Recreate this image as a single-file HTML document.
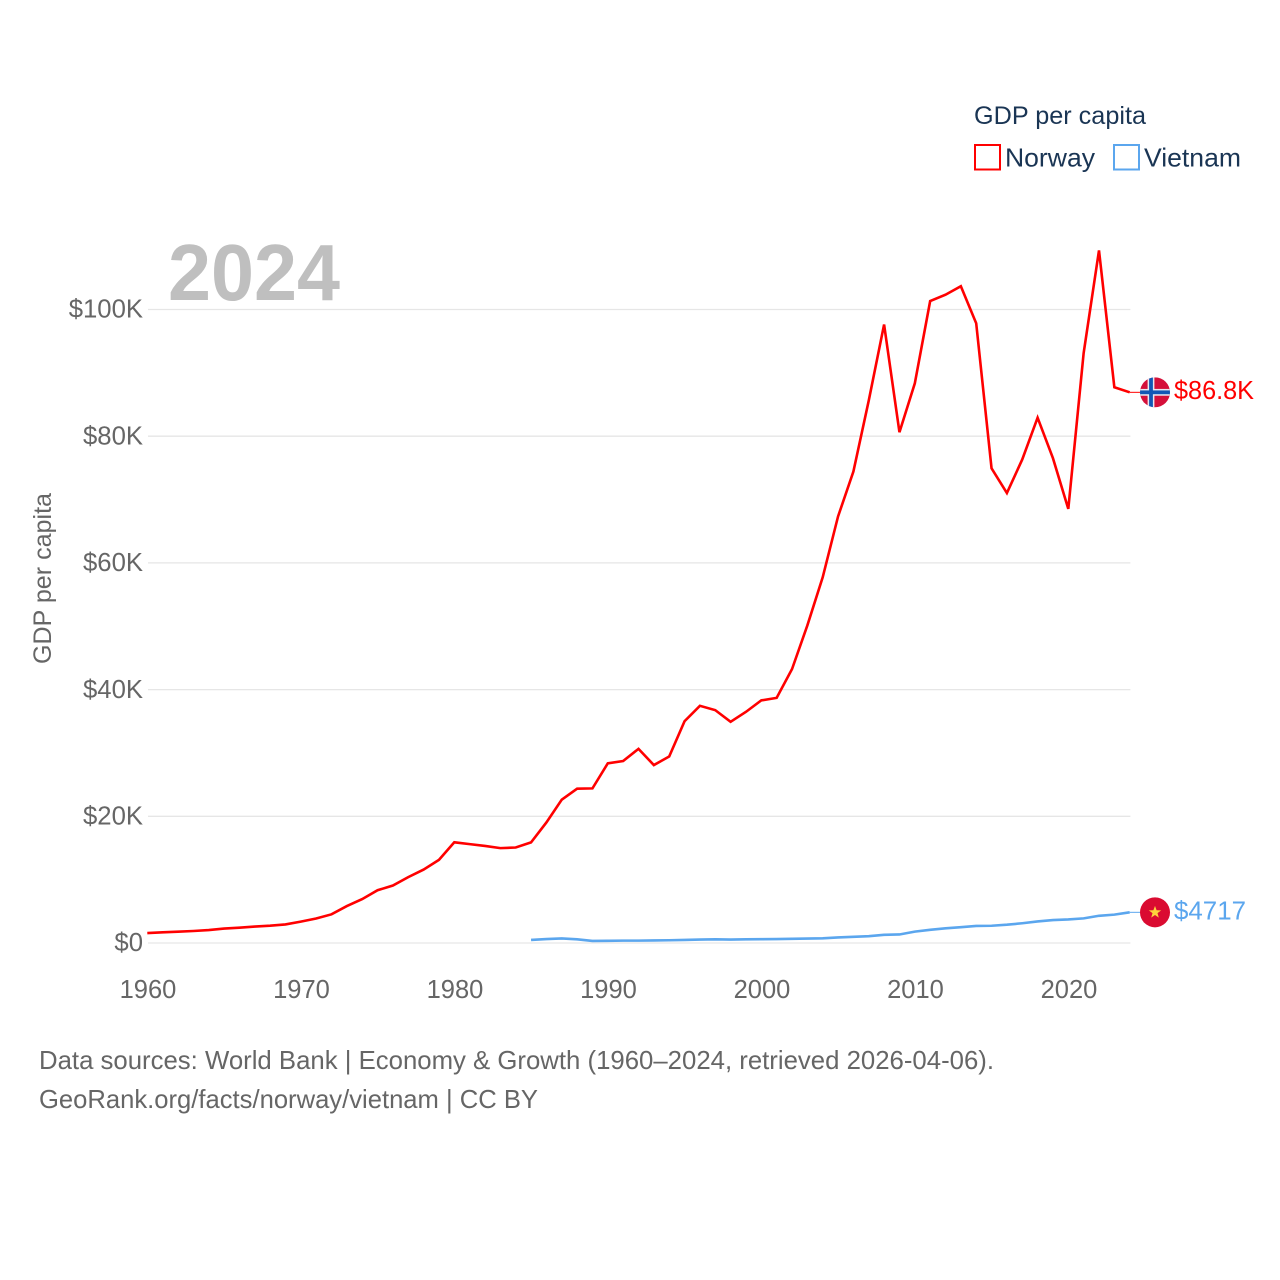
<!DOCTYPE html>
<html lang="en">
<head>
<meta charset="utf-8">
<title>GDP per capita: Norway and Vietnam</title>
<style>
html,body{margin:0;padding:0;background:#fff;}
svg{display:block;font-family:"Liberation Sans",sans-serif;}
</style>
</head>
<body>
<svg id="chart" xmlns="http://www.w3.org/2000/svg" width="1280" height="1280" viewBox="0 0 1280 1280">
  <defs>
    <clipPath id="flag-clip-norway"><circle cx="0" cy="0" r="15"></circle></clipPath>
  </defs>
  <rect x="0" y="0" width="1280" height="1280" fill="#fff"></rect>
  <g id="grid"></g>
  <g id="y-ticks"></g>
  <g id="x-ticks"></g>
  <text x="168" y="300" font-size="80" font-weight="700" fill="#bfbfbf" textLength="172" lengthAdjust="spacingAndGlyphs">2024</text>
  <text transform="translate(51,578.5) rotate(-90)" text-anchor="middle" font-size="25" fill="#666666" textLength="171" lengthAdjust="spacingAndGlyphs">GDP per capita</text>
  <g id="series" transform="translate(-0.7,-0.8)"></g>
  <g id="ends" transform="translate(0,-0.8)"></g>
  <g>
    <text x="974" y="124" font-size="25" fill="#1a3554" textLength="172" lengthAdjust="spacingAndGlyphs">GDP per capita</text>
    <g>
      <rect x="975" y="145" width="25" height="24.5" fill="#fff" stroke="#ff0000" stroke-width="2"></rect>
      <text x="1005" y="166.5" font-size="26" fill="#1a3554" textLength="90" lengthAdjust="spacingAndGlyphs">Norway</text>
    </g>
    <g>
      <rect x="1114" y="145" width="25" height="24.5" fill="#fff" stroke="#5ba6ee" stroke-width="2"></rect>
      <text x="1144" y="166.5" font-size="26" fill="#1a3554" textLength="97" lengthAdjust="spacingAndGlyphs">Vietnam</text>
    </g>
  </g>
  <text x="39" y="1069" font-size="26" fill="#666666" textLength="955" lengthAdjust="spacingAndGlyphs">Data sources: World Bank | Economy &amp; Growth (1960–2024, retrieved 2026-04-06).</text>
  <text x="39" y="1108" font-size="26" fill="#666666" textLength="499" lengthAdjust="spacingAndGlyphs">GeoRank.org/facts/norway/vietnam | CC BY</text>
</svg>
<script>
const years = [1960,1961,1962,1963,1964,1965,1966,1967,1968,1969,1970,1971,1972,1973,1974,1975,1976,1977,1978,1979,1980,1981,1982,1983,1984,1985,1986,1987,1988,1989,1990,1991,1992,1993,1994,1995,1996,1997,1998,1999,2000,2001,2002,2003,2004,2005,2006,2007,2008,2009,2010,2011,2012,2013,2014,2015,2016,2017,2018,2019,2020,2021,2022,2023,2024];
const norwayValues = [1442,1561,1667,1770,1914,2150,2290,2470,2600,2800,3250,3740,4400,5700,6800,8200,8950,10270,11460,13000,15770,15480,15190,14850,14950,15750,18900,22500,24230,24280,28240,28600,30520,27960,29320,34880,37320,36630,34790,36360,38170,38570,43100,50000,57600,67200,74300,85500,97500,80500,88200,101200,102200,103550,97700,74800,70900,76200,82800,76400,68400,93000,109200,87600,86800];
const vietnamValues = [null,null,null,null,null,null,null,null,null,null,null,null,null,null,null,null,null,null,null,null,null,null,null,null,null,350,500,600,450,200,220,250,250,280,310,350,420,450,420,450,480,500,530,580,620,750,850,950,1170,1220,1670,1950,2190,2370,2560,2595,2760,2990,3270,3490,3590,3760,4170,4350,4717];
const yTickValues = [0,20000,40000,60000,80000,100000];
const yTickLabels = ["$0","$20K","$40K","$60K","$80K","$100K"];
const xTickValues = [1960,1970,1980,1990,2000,2010,2020];
const xTickLabels = ["1960","1970","1980","1990","2000","2010","2020"];
const norwayEndLabel = "$86.8K";
const vietnamEndLabel = "$4717";

const NS = "http://www.w3.org/2000/svg";
function xScale(year){ return 148 + (year - 1960) * 15.35; }
function yScale(value){ return 943 - value * 0.006335; }
function make(tag, attrs, parent, text){
  const el = document.createElementNS(NS, tag);
  for (const k in attrs) el.setAttribute(k, attrs[k]);
  if (text !== undefined) el.textContent = text;
  parent.appendChild(el);
  return el;
}
const gridG = document.getElementById("grid");
const yG = document.getElementById("y-ticks");
const xG = document.getElementById("x-ticks");
const seriesG = document.getElementById("series");
const endsG = document.getElementById("ends");

yTickValues.forEach(function(v, i){
  const line = make("line", {x1:xScale(1960), x2:xScale(2024), y1:yScale(v), y2:yScale(v), stroke:"#e6e6e6", "stroke-width":1.3}, gridG);
  
  
  const label = make("text", {x:143, y:yScale(v)+8.2, "text-anchor":"end", "font-size":25.7, fill:"#666666"}, yG, yTickLabels[i]);
  
  
});
xTickValues.forEach(function(v, i){
  const label = make("text", {x:xScale(v), y:998, "text-anchor":"middle", "font-size":25.5, fill:"#666666"}, xG, xTickLabels[i]);
  
  
});
function pathFor(values){
  let d = "";
  values.forEach(function(v, i){
    if (v === null) return;
    d += (d ? "L" : "M") + xScale(years[i]).toFixed(2) + " " + yScale(v).toFixed(2);
  });
  return d;
}
const norwayLine = make("path", {d:pathFor(norwayValues), fill:"none", stroke:"#ff0000", "stroke-width":2.6, "stroke-linejoin":"miter"}, seriesG);


const vietnamLine = make("path", {d:pathFor(vietnamValues), fill:"none", stroke:"#5ba6ee", "stroke-width":2.6}, seriesG);



const lastNorwayY = yScale(norwayValues[norwayValues.length-1]);
const lastVietnamY = yScale(vietnamValues[vietnamValues.length-1]);
const xEnd = xScale(2024) - 0.7;

const connN = make("line", {x1:xEnd, x2:1140, y1:lastNorwayY, y2:lastNorwayY, stroke:"#ff0000", "stroke-width":1}, endsG);


const connV = make("line", {x1:xEnd, x2:1140, y1:lastVietnamY, y2:lastVietnamY, stroke:"#5ba6ee", "stroke-width":1}, endsG);



const flagN = make("g", {transform:"translate(1155," + lastNorwayY + ")"}, endsG);


const flagNInner = make("g", {"clip-path":"url(#flag-clip-norway)"}, flagN);
make("rect", {x:-15, y:-15, width:30, height:30, fill:"#d5103a"}, flagNInner);
make("rect", {x:-15, y:-3.4, width:30, height:6.8, fill:"#e8e8f0"}, flagNInner);
make("rect", {x:-7.4, y:-15, width:6.8, height:30, fill:"#e8e8f0"}, flagNInner);
make("rect", {x:-15, y:-1.9, width:30, height:3.8, fill:"#1257b5"}, flagNInner);
make("rect", {x:-5.9, y:-15, width:3.8, height:30, fill:"#1257b5"}, flagNInner);

const flagV = make("g", {transform:"translate(1155," + lastVietnamY + ")"}, endsG);


make("circle", {cx:0, cy:0, r:15, fill:"#da0b31"}, flagV);
make("polygon", {points:"0,-6.5 1.6,-2.1 6.2,-2 2.5,0.8 3.8,5.3 0,2.7 -3.8,5.3 -2.5,0.8 -6.2,-2 -1.6,-2.1", fill:"#fdd33c"}, flagV);

const labelN = make("text", {x:1174, y:lastNorwayY+6.5, "font-size":25.5, fill:"#ff0000", textLength:80, lengthAdjust:"spacingAndGlyphs"}, endsG, norwayEndLabel);


const labelV = make("text", {x:1174, y:lastVietnamY+7, "font-size":25.5, fill:"#5ba6ee", textLength:72, lengthAdjust:"spacingAndGlyphs"}, endsG, vietnamEndLabel);


</script>
</body>
</html>
